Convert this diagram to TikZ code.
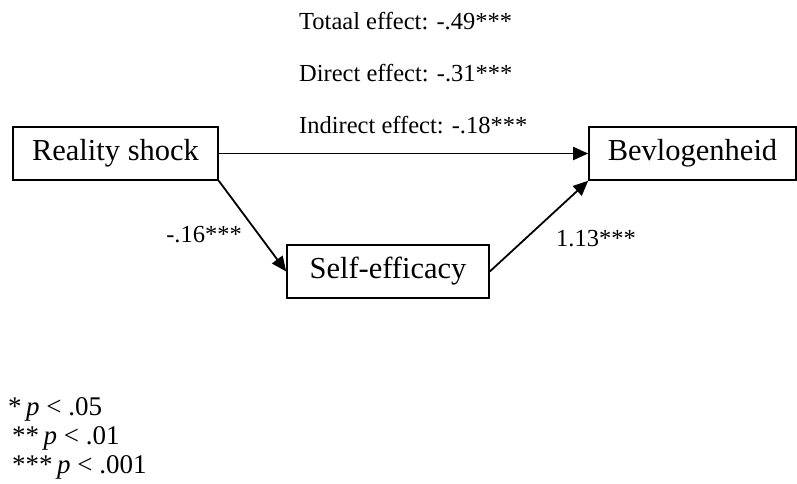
\documentclass[tikz,border=0pt]{standalone}
\usepackage{fontspec}
\setmainfont{Liberation Serif}
\usetikzlibrary{arrows.meta}

\begin{document}
\begin{tikzpicture}
[x=1pt,y=-1pt,%
  boxDecorate/.style={shape=rectangle,draw,line width=1.6pt,inner sep=0pt,minimum height=53pt,font=\fontsize{30.5}{36}\selectfont},%
  arrowDecorate/.style={-{Triangle[length=15pt,width=13pt]},line width=1.8pt},%
  labelDecorate/.style={inner sep=0pt,font=\fontsize{24.5}{29}\selectfont},%
  legendDecorate/.style={inner sep=0pt,font=\fontsize{27}{31}\selectfont}]
\useasboundingbox (0,0) rectangle (797,483);
%% boxes
\foreach \nodename/\x/\y/\boxwidth/\txt in {
  rs/115.5/153.5/205/Reality shock, bv/692.5/153.5/207/Bevlogenheid,
  se/388/271.5/202/Self-efficacy}
{
  \node (\nodename) at (\x,\y) [boxDecorate,minimum width=\boxwidth pt] {\txt};
}
%% effect labels
\foreach \lblname/\y/\txt in {
  tot/29/Totaal effect: -.49***, dir/81/Direct effect: -.31***,
  ind/133/Indirect effect: -.18***}
{
  \node (\lblname) at (299,\y) [labelDecorate,anchor=base west] {\txt};
}
%% paths
\path
\foreach \startnode/\endnode in {rs/bv, rs.south east/se.west, se.east/bv.south west}
{
  (\startnode) edge[arrowDecorate] (\endnode)
};
\node (a) at (242,242) [labelDecorate,anchor=base east] {-.16***};
\node (b) at (556,246) [labelDecorate,anchor=base west] {1.13***};
%% legend
\foreach \lblname/\x/\y/\stars/\val in {
  sig1/8/415/*/.05, sig2/12/444/**/.01, sig3/12/473/***/.001}
{
  \node (\lblname) at (\x,\y) [legendDecorate,anchor=base west] {\stars\,\textit{p} < \val};
}
\end{tikzpicture}
\end{document}
